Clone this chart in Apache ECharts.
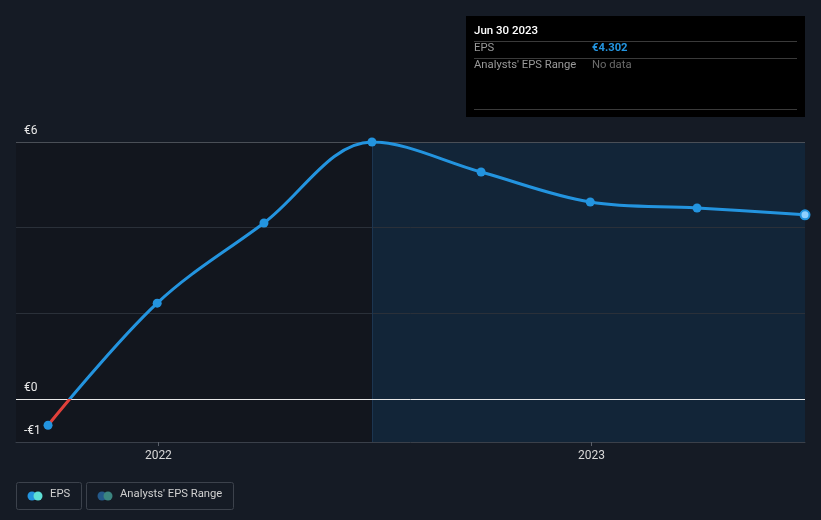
<!DOCTYPE html>
<html><head><meta charset="utf-8">
<script src="https://cdn.jsdelivr.net/npm/echarts@6/dist/echarts.min.js"></script>
<style>html,body{margin:0;padding:0;background:#151b25;}#c{width:821px;height:520px;}</style>
</head><body><div id="c"></div>
<script>
var dates = ['2021-09-30','2021-12-31','2022-03-31','2022-06-30','2022-09-30','2022-12-31','2023-03-31','2023-06-30'];
var eps = [-0.61, 2.24, 4.11, 6.0, 5.30, 4.60, 4.46, 4.302];
var yTickLabels = {'6':'€6','0':'€0','-1':'-€1'};
var yearTicks = ['2022-01-01','2023-01-01'];
var gridValues = [2, 4, 6];
var splitDate = '2022-06-30';
var xMinDate = '2021-09-03', xMaxDate = '2023-06-30';

function ts(d){ return Date.parse(d + 'T00:00:00Z'); }
var data = dates.map(function(d,i){return [ts(d), eps[i]];});
var tickVals = yearTicks.map(ts);
var xMin = ts(xMinDate), xMax = ts(xMaxDate), xSplit = ts(splitDate);
var chart = echarts.init(document.getElementById('c'), null, {renderer:'canvas'});
var font = 'Roboto, "Open Sans", sans-serif';
chart.setOption({
  backgroundColor:'#151b25',
  animation:false,
  grid:{left:16,right:16,top:142,bottom:78},
  xAxis:{type:'value', min:xMin, max:xMax, z:20,
    axisLine:{show:true,onZero:false,lineStyle:{color:'#3a404a',width:1}},
    axisTick:{show:true,length:4,customValues:tickVals,lineStyle:{color:'#5a606a'}},
    axisLabel:{color:'#d8d8d8',fontSize:12,fontFamily:font,margin:8,customValues:tickVals,
      formatter:function(v){return String(new Date(v).getUTCFullYear());}},
    splitLine:{show:false}},
  yAxis:{type:'value',min:-1,max:6,interval:1,z:20,
    axisLine:{show:false},axisTick:{show:false},splitLine:{show:false},
    axisLabel:{inside:true,margin:8,color:'#e8e8e8',fontSize:12,fontFamily:font,verticalAlign:'bottom',padding:[0,0,5,0],
      formatter:function(v){return yTickLabels[String(v)]||'';}}},
  visualMap:{show:false,type:'piecewise',seriesIndex:0,dimension:1,
    pieces:[{gte:-100,lt:0,color:'#e0403a'},{gte:0,lte:100,color:'#2394df'}]},
  series:[
    {type:'line',data:data,smooth:0.35,showSymbol:false,lineStyle:{width:3},z:5},
    {type:'scatter',data:data.slice(0,data.length-1),symbolSize:9,itemStyle:{color:'#2394df',opacity:1},z:6,
      markArea:{silent:true,z:1,data:[
        [{xAxis:xMin,itemStyle:{color:'#12161e'}},{xAxis:xSplit}],
        [{xAxis:xSplit,itemStyle:{color:'#122538'}},{xAxis:xMax}]
      ]}
    },
    {type:'scatter',data:data.slice(data.length-1),symbolSize:9,itemStyle:{color:'#8fd0ff',borderColor:'#2394df',borderWidth:2,opacity:1},z:6,
      markLine:{silent:true,z:2,symbol:'none',label:{show:false},data:[
        {yAxis:gridValues[0],lineStyle:{color:'#2a3039',width:1,type:'solid'}},
        {yAxis:gridValues[1],lineStyle:{color:'#2a3039',width:1,type:'solid'}},
        {yAxis:gridValues[2],lineStyle:{color:'#4a4f57',width:1,type:'solid'}},
        {xAxis:xSplit,lineStyle:{color:'#1c3550',width:1,type:'solid'}}
      ]}
    },
    {type:'line',data:[],z:3,
      markLine:{silent:true,z:3,symbol:'none',label:{show:false},data:[
        {yAxis:0,lineStyle:{color:'#e8e8e8',width:1,type:'solid'}}
      ]}
    }
  ],
  graphic:[
    {type:'rect',left:466,top:16,shape:{width:339,height:101},style:{fill:'#000'}},
    {type:'text',left:474,top:25,style:{text:'Jun 30 2023',fill:'#ffffff',font:'500 11.5px '+font}},
    {type:'line',shape:{x1:474,y1:41.5,x2:797,y2:41.5},style:{stroke:'#3a3a3a',lineWidth:1}},
    {type:'text',left:474,top:43,style:{text:'EPS',fill:'#9a9a9a',font:'11.25px '+font}},
    {type:'text',left:592,top:43,style:{text:'€4.302',fill:'#2394df',font:'bold 11.25px '+font}},
    {type:'line',shape:{x1:474,y1:58.5,x2:797,y2:58.5},style:{stroke:'#3a3a3a',lineWidth:1}},
    {type:'text',left:474,top:60,style:{text:"Analysts' EPS Range",fill:'#9a9a9a',font:'11.25px '+font}},
    {type:'text',left:592,top:60,style:{text:'No data',fill:'#6a6a6a',font:'11.25px '+font}},
    {type:'line',shape:{x1:474,y1:109.5,x2:797,y2:109.5},style:{stroke:'#3a3a3a',lineWidth:1}},
    {type:'text',right:24,top:148,style:{text:'Actual',fill:'#ffffff',font:'12px '+font}},
    {type:'rect',shape:{x:16.5,y:482.5,width:65,height:27,r:2},style:{fill:'none',stroke:'#3c424c',lineWidth:1}},
    {type:'circle',shape:{cx:32,cy:496,r:4.5},style:{fill:'#2394df'}},
    {type:'circle',shape:{cx:38,cy:496,r:4.5},style:{fill:'#5ee0d6'}},
    {type:'text',left:50,top:489,style:{text:'EPS',fill:'#d0d0d0',font:'11.25px '+font}},
    {type:'rect',shape:{x:86.5,y:482.5,width:147,height:27,r:2},style:{fill:'none',stroke:'#3c424c',lineWidth:1}},
    {type:'circle',shape:{cx:102,cy:496,r:4.5},style:{fill:'#24598a'}},
    {type:'circle',shape:{cx:108,cy:496,r:4.5},style:{fill:'#3b8580'}},
    {type:'text',left:120,top:489,style:{text:"Analysts' EPS Range",fill:'#d0d0d0',font:'11.25px '+font}}
  ]
});
</script></body></html>
